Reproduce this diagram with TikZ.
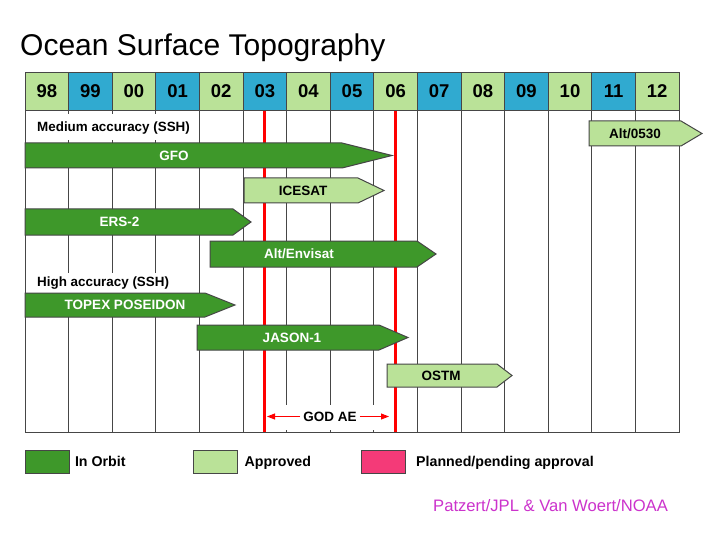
\documentclass[tikz,border=0pt]{standalone}
\usepackage{fontspec}
\setmainfont{Liberation Sans}
\usetikzlibrary{positioning, arrows.meta}
\definecolor{orbitgreen}{RGB}{62,152,42}
\definecolor{apprgreen}{RGB}{186,226,152}
\definecolor{yearblue}{RGB}{48,170,208}
\definecolor{planpink}{RGB}{244,58,120}
\definecolor{gridgray}{RGB}{70,70,70}
\definecolor{creditpink}{RGB}{204,51,204}
\tikzset{
orbit/.style={draw=gridgray, line width=1pt, fill=orbitgreen},
orbit text/.style={text=white},
approved/.style={draw=gridgray, line width=1pt, fill=apprgreen},
approved text/.style={text=black},
gridline/.style={draw=gridgray, line width=1pt},
redline/.style={draw=red, line width=3pt},
godarrow/.style={draw=red, line width=0.9pt, -{Triangle[length=8pt,width=6pt]}},
barlabel/.style={inner sep=0pt, text height=9.5pt, text depth=0pt,
  font=\bfseries\fontsize{13.5}{15}\selectfont},
seclabel/.style={fill=white, inner xsep=7pt, inner ysep=0pt, anchor=west,
  text height=10pt, text depth=2.5pt, font=\bfseries\fontsize{13.4}{15}\selectfont},
yearlabel/.style={font=\bfseries\fontsize{18.5}{20}\selectfont},
legendbox/.style={draw=gridgray, line width=1.2pt, minimum width=44pt, minimum height=22.5pt, inner sep=0pt},
legendtext/.style={inner sep=0pt, text height=11pt, text depth=2pt,
  font=\bfseries\fontsize{14.2}{16}\selectfont},
% bar: style, start, body end, tip, top, bottom, label x, label
pics/satbar/.style n args={8}{code={
  \path[#1] (#2,#5) -- (#3,#5) -- (#4,{(#5+#6)/2}) -- (#3,#6) -- (#2,#6) -- cycle;
  \node[barlabel, #1 text] (-label) at (#7,{(#5+#6)/2}) {#8};
  }}
}
\begin{document}
\begin{tikzpicture}[x=1pt, y=-1pt]
\useasboundingbox[fill=white] (0,0) rectangle (720,540);
\node[anchor=base west, inner sep=0pt, font=\fontsize{30}{34}\selectfont] (title) at (20,55.5) {Ocean Surface Topography};
% year header
\foreach \yr/\col [count=\i from 0] in {98/apprgreen,99/yearblue,00/apprgreen,01/yearblue,02/apprgreen,
  03/yearblue,04/apprgreen,05/yearblue,06/apprgreen,07/yearblue,08/apprgreen,09/yearblue,
  10/apprgreen,11/yearblue,12/apprgreen} {
  \path[gridline, fill=\col] ({25+43.6*\i},73) rectangle ++(43.6,38);
  \node[yearlabel] (y\yr) at ({25+43.6*\i+21.8},91.5) {\yr};
}
\foreach \i in {1,...,14}
  \draw[gridline] ({25+43.6*\i},111) -- ({25+43.6*\i},432);
\draw[gridline] (25,73) rectangle (679,432);
% white bands over the grid
\node[seclabel, minimum height=26pt] (medium) at (30,127.5) {Medium accuracy (SSH)};
\node[seclabel, minimum height=20pt] (high) at (30,283) {High accuracy (SSH)};
\fill[white] (267,405) rectangle (389,430);
% red lines
\draw[redline] (264.8,111) -- (264.8,432);
\draw[redline] (395.6,111) -- (395.6,432);
% satellites
\pic (alt) at (0,0) {satbar={approved}{589}{681}{702}{121}{146}{635}{Alt/0530}};
\pic (gfo) at (0,0) {satbar={orbit}{25}{342}{392}{143}{168}{174}{GFO}};
\pic (icesat) at (0,0) {satbar={approved}{244}{358}{384}{178}{203}{303}{ICESAT}};
\pic (ers) at (0,0) {satbar={orbit}{25}{233}{251}{209}{235}{119.5}{ERS-2}};
\pic (envisat) at (0,0) {satbar={orbit}{210}{417}{436}{241}{267}{299}{Alt/Envisat}};
\pic (topex) at (0,0) {satbar={orbit}{25}{205}{235}{293}{317}{125}{TOPEX POSEIDON}};
\pic (jason) at (0,0) {satbar={orbit}{197}{379}{408}{325}{350}{292}{JASON-1}};
\pic (ostm) at (0,0) {satbar={approved}{387}{497}{512}{364}{387}{441}{OSTM}};
% GODAE
\node[barlabel, inner xsep=3pt] (godae) at (330,416.5) {GOD AE};
\coordinate (godl) at (267,416.5);
\coordinate (godr) at (389,416.5);
\draw[godarrow] (godae) -- (godl);
\draw[godarrow] (godae) -- (godr);
% legend
\node[legendbox, fill=orbitgreen] (korbit) at (47.2,462) {};
\node[legendtext, right=5pt of korbit] (torbit) {In Orbit};
\node[legendbox, fill=apprgreen] (kappr) at (215.4,462) {};
\node[legendtext, right=6.5pt of kappr] (tappr) {Approved};
\node[legendbox, fill=planpink] (kplan) at (383.4,462) {};
\node[legendtext, right=10pt of kplan] (tplan) {Planned/pending approval};
\node[anchor=base west, inner sep=0pt, text=creditpink, font=\fontsize{16.6}{18}\selectfont] (credit) at (433,511) {Patzert/JPL \& Van Woert/NOAA};
\end{tikzpicture}
\end{document}
